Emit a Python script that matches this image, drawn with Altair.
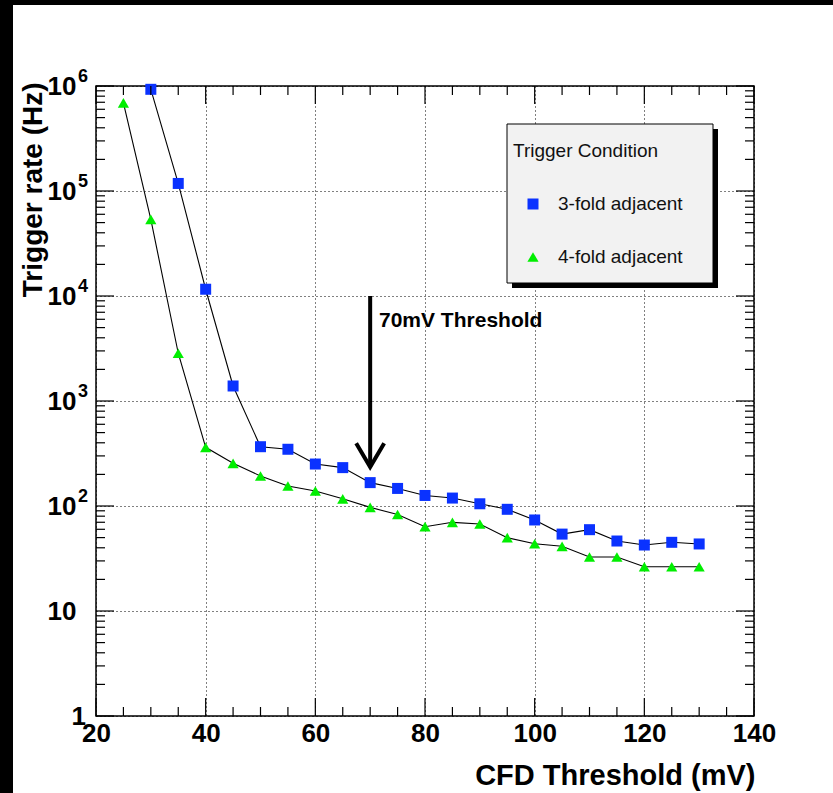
import altair as alt
import pandas as pd

# ---------------- data ----------------
x_3fold = [30, 35, 40, 45, 50, 55, 60, 65, 70, 75, 80, 85, 90, 95, 100, 105, 110, 115, 120, 125, 130]
rate_3fold = [930000, 118000, 11600, 1390, 367, 347, 251, 232, 167, 147, 126, 119, 105, 93,
              73.6, 54, 59.5, 46.4, 42.5, 45.1, 43.5]
x_4fold = [25, 30, 35, 40, 45, 50, 55, 60, 65, 70, 75, 80, 85, 90, 95, 100, 105, 110, 115, 120, 125, 130]
rate_4fold = [690000, 53700, 2850, 362, 255, 193, 155, 139, 117, 97, 83, 63.5, 69.9, 67.4, 49.9,
              43.7, 41.3, 32.7, 32.7, 26.4, 26.4, 26.4]

series_names = ["3-fold adjacent", "4-fold adjacent"]
series_colors = ["#0a32ff", "#00ee00"]
series_shapes = ["square", "triangle-up"]
series_sizes = [121, 125]

legend_title = "Trigger Condition"
x_title = "CFD Threshold (mV)"
y_title = "Trigger rate (Hz)"

x_major = [20, 40, 60, 80, 100, 120, 140]
x_minor = [25, 30, 35, 45, 50, 55, 65, 70, 75, 85, 90, 95, 105, 110, 115, 125, 130, 135]
y_major = [1, 10, 100, 1000, 10000, 100000, 1000000]
y_minor = [m * 10 ** k for k in range(6) for m in range(2, 10)]
sup_values = [100, 1000, 10000, 100000, 1000000]
sup_text = ["2", "3", "4", "5", "6"]

arrow_label = "70mV Threshold"
arrow_x = [70]
arrow_top = [10000]
arrow_tip = [235]

# ---------------- layout ----------------
W, H = 658, 630
FONT = "Liberation Sans"

xs = alt.Scale(domain=[20, 140], nice=False, zero=False)
ys = alt.Scale(type="log", domain=[1, 1000000], nice=False)

df = pd.DataFrame({
    "series": [series_names[0]] * len(x_3fold) + [series_names[1]] * len(x_4fold),
    "x": x_3fold + x_4fold,
    "rate": rate_3fold + rate_4fold,
})

one = pd.DataFrame({"a": [0]})

# black frame bands of the original image
band_left = alt.Chart(one).mark_rect(color="black").encode(
    x=alt.value(-96), x2=alt.value(-83), y=alt.value(-86), y2=alt.value(H + 77))
band_top = alt.Chart(one).mark_rect(color="black").encode(
    x=alt.value(-96), x2=alt.value(W + 79), y=alt.value(-86), y2=alt.value(-81))

lines = alt.Chart(df).mark_line(color="black", strokeWidth=1.1).encode(
    x=alt.X("x:Q", scale=xs, axis=alt.Axis(
        values=x_major, tickSize=0, domain=False, labelFlush=False, labelOverlap=False,
        labelFont=FONT, labelFontSize=26, labelFontWeight="bold", labelColor="black",
        labelPadding=4, grid=True, gridColor="black", gridDash=[1, 3], gridWidth=1,
        gridOpacity=1, title=x_title, titleFont=FONT, titleFontSize=29,
        titleFontWeight="bold", titleColor="black", titleAlign="right", titleX=W + 1,
        titleY=59, titleBaseline="middle")),
    y=alt.Y("rate:Q", scale=ys, axis=alt.Axis(
        values=y_major, labelExpr="datum.value == 1 ? '' : '10'", tickSize=0, domain=False,
        labelFont=FONT, labelFontSize=26, labelFontWeight="bold", labelColor="black",
        labelPadding=20, labelOverlap=False, grid=True, gridColor="black", gridDash=[1, 3],
        gridWidth=1, gridOpacity=1, title=y_title, titleFont=FONT, titleFontSize=28,
        titleFontWeight="bold", titleColor="black", titleAngle=270, titleAlign="right",
        titleBaseline="middle", titleX=-63, titleY=-4)),
    detail="series:N",
)

points = alt.Chart(df).mark_point(filled=True, opacity=1, strokeWidth=0).encode(
    x=alt.X("x:Q", scale=xs),
    y=alt.Y("rate:Q", scale=ys),
    color=alt.Color("series:N", scale=alt.Scale(domain=series_names, range=series_colors), legend=None),
    shape=alt.Shape("series:N", scale=alt.Scale(domain=series_names, range=series_shapes), legend=None),
    size=alt.Size("series:N", scale=alt.Scale(domain=series_names, range=series_sizes), legend=None),
)


def xticks(vals, y0, y1):
    return alt.Chart(pd.DataFrame({"x": vals})).mark_rule(color="black", strokeWidth=1.2).encode(
        x=alt.X("x:Q", scale=xs), y=alt.value(y0), y2=alt.value(y1))


def yticks(vals, x0, x1):
    return alt.Chart(pd.DataFrame({"rate": vals})).mark_rule(color="black", strokeWidth=1.2).encode(
        y=alt.Y("rate:Q", scale=ys), x=alt.value(x0), x2=alt.value(x1))


ticks = [
    xticks(x_major, H, H - 18), xticks(x_major, 0, 18),
    xticks(x_minor, H, H - 9), xticks(x_minor, 0, 9),
    yticks(y_major, 0, 18), yticks(y_major, W, W - 18),
    yticks(y_minor, 0, 9), yticks(y_minor, W, W - 9),
]

sup = alt.Chart(pd.DataFrame({"rate": sup_values, "t": sup_text})).mark_text(
    align="left", baseline="alphabetic", dy=-4, font=FONT, fontSize=18,
    fontWeight="bold", color="black").encode(
    y=alt.Y("rate:Q", scale=ys), x=alt.value(-18), text="t:N")

one_label = alt.Chart(pd.DataFrame({"rate": [1], "t": ["1"]})).mark_text(
    align="right", baseline="middle", dy=1, font=FONT, fontSize=26,
    fontWeight="bold", color="black").encode(
    y=alt.Y("rate:Q", scale=ys), x=alt.value(-10), text="t:N")

# arrow annotation
arrow_df = pd.DataFrame({"x": arrow_x, "rate": arrow_top, "tip": arrow_tip})
shaft = alt.Chart(arrow_df).mark_rule(color="black", strokeWidth=4).encode(
    x=alt.X("x:Q", scale=xs),
    y=alt.Y("rate:Q", scale=ys), y2="tip:Q")
head = alt.Chart(arrow_df).mark_point(
    shape="M-1,-1.7L0,0L1,-1.7", filled=False, stroke="black", strokeWidth=4,
    size=784, opacity=1).encode(
    x=alt.X("x:Q", scale=xs), y=alt.Y("tip:Q", scale=ys))
arrow_text = alt.Chart(pd.DataFrame({"t": [arrow_label]})).mark_text(
    align="left", baseline="middle", font=FONT, fontSize=21, fontWeight="bold",
    color="black").encode(x=alt.value(283), y=alt.value(235), text="t:N")

# legend box
shadow = alt.Chart(one).mark_rect(color="black").encode(
    x=alt.value(416), x2=alt.value(622), y=alt.value(43), y2=alt.value(202))
box = alt.Chart(one).mark_rect(fill="#f2f2f2", stroke="black", strokeWidth=1).encode(
    x=alt.value(411), x2=alt.value(617), y=alt.value(38), y2=alt.value(197))
leg_title = alt.Chart(pd.DataFrame({"t": [legend_title]})).mark_text(
    align="left", baseline="middle", font=FONT, fontSize=19, color="#111").encode(
    x=alt.value(417), y=alt.value(65), text="t:N")
leg_layers = []
for i, (name, col, shp, sz) in enumerate(zip(series_names, series_colors, series_shapes, series_sizes)):
    yy = 118 + 53 * i
    d = pd.DataFrame({"t": [name]})
    leg_layers.append(alt.Chart(d).mark_point(
        shape=shp, filled=True, color=col, size=sz, opacity=1, strokeWidth=0).encode(
        x=alt.value(437), y=alt.value(yy)))
    leg_layers.append(alt.Chart(d).mark_text(
        align="left", baseline="middle", font=FONT, fontSize=19, color="#111").encode(
        x=alt.value(462), y=alt.value(yy), text="t:N"))

chart = alt.layer(
    lines, band_left, band_top, points, *ticks, sup, one_label,
    shaft, head, arrow_text, shadow, box, leg_title, *leg_layers,
).properties(
    width=W, height=H,
    autosize=alt.AutoSizeParams(type="none"),
    padding={"left": 96, "top": 86, "right": 79, "bottom": 77},
    background="white",
).configure_view(stroke="black", strokeWidth=1.5, fill="white")

chart.save("out.html", embed_options={"renderer": "svg", "actions": False})
